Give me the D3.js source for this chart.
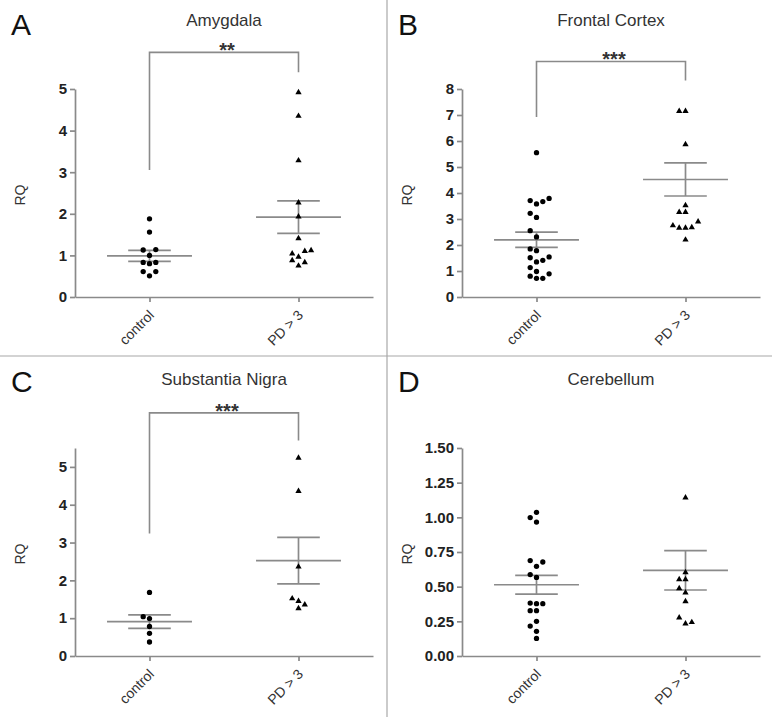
<!DOCTYPE html>
<html>
<head>
<meta charset="utf-8">
<script src="https://cdn.jsdelivr.net/npm/d3@7"></script>
<style>
  body { margin: 0; background: #fff; }
  svg { display: block; }
</style>
</head>
<body>
<svg id="chart"></svg>
<script>
const width = 772;
const height = 717;
const font = "'Liberation Sans', Arial, sans-serif";
const grey = "#8a8a8a";

// categories and panels
const groups = ["control", "PD > 3"];
const panelLetters = ["A", "B", "C", "D"];
const panelTitles = ["Amygdala", "Frontal Cortex", "Substantia Nigra", "Cerebellum"];

// y axes
const yMax = [5, 8, 5.5, 1.5];
const yTicks = [
  [0, 1, 2, 3, 4, 5],
  [0, 1, 2, 3, 4, 5, 6, 7, 8],
  [0, 1, 2, 3, 4, 5],
  [0, 0.25, 0.5, 0.75, 1, 1.25, 1.5]
];
const tickFormats = ["d", "d", "d", ".2f"];

// RQ values per sample (order as entered)
const amygdalaControl = [0.51, 0.61, 0.61, 0.80, 0.83, 0.83, 1.00, 1.13, 1.14, 1.56, 1.88];
const amygdalaPD = [0.75, 0.965, 0.88, 0.83, 1.04, 1.10, 1.12, 1.41, 1.93, 2.27, 3.28, 4.35, 4.92];
const frontalControl = [0.72, 0.80, 0.72, 0.89, 0.98, 1.13, 1.35, 1.51, 1.41, 1.54, 1.78, 1.85,
  2.31, 2.55, 3.06, 3.22, 3.58, 3.71, 3.67, 3.79, 5.55];
const frontalPD = [2.20, 2.66, 2.66, 2.68, 2.90, 2.75, 3.26, 3.26, 3.52, 5.87, 7.15, 7.15];
const nigraControl = [0.37, 0.60, 0.78, 0.99, 1.04, 1.68];
const nigraPD = [1.26, 1.45, 1.52, 1.36, 2.36, 4.36, 5.24];
const cerebellumControl = [0.127, 0.178, 0.216, 0.25, 0.327, 0.327, 0.377, 0.382, 0.377,
  0.567, 0.587, 0.647, 0.688, 0.678, 0.966, 0.998, 1.036];
const cerebellumPD = [0.233, 0.276, 0.243, 0.394, 0.457, 0.553, 0.603, 0.553, 0.488, 1.142];

const panelValues = [
  [amygdalaControl, amygdalaPD],
  [frontalControl, frontalPD],
  [nigraControl, nigraPD],
  [cerebellumControl, cerebellumPD]
];

// mean and SEM lines as drawn
const meanValues = [[0.99, 1.92], [2.20, 4.52], [0.91, 2.52], [0.514, 0.618]];
const semValues = [[0.133, 0.39], [0.295, 0.635], [0.18, 0.615], [0.068, 0.142]];

// significance brackets (in RQ units)
const bracketLeft = [3.05, 6.92, 3.24, null];
const bracketRight = [5.4, 8.33, 5.7, null];
const bracketTop = [5.88, 9.06, 6.43, null];
const bracketLabels = ["**", "***", "***", ""];

const svg = d3
  .select("#chart")
  .attr("width", width)
  .attr("height", height)
  .attr("viewBox", [0, 0, width, height])
  .style("font-family", font);

// panel dividers
svg.append("line")
  .attr("x1", 387).attr("x2", 387).attr("y1", 0).attr("y2", height)
  .attr("stroke", "#a8a8a8").attr("stroke-width", 1.2);
svg.append("line")
  .attr("x1", 0).attr("x2", width).attr("y1", 356).attr("y2", 356)
  .attr("stroke", "#a8a8a8").attr("stroke-width", 1.2);

// spread points sideways so they do not overlap
function swarm(values, y, laneWidth = 6.3, gap = 6.5) {
  const lanes = [0, -1, 1, 2, -2, 3, -3];
  const placed = [];
  return values.map((v) => {
    const py = y(v);
    const k = lanes.find((k) => !placed.some((p) => p.k === k && Math.abs(p.py - py) < gap));
    placed.push({ k, py });
    return { v, dx: k * laneWidth };
  });
}

panelTitles.forEach((title, i) => {
  const g = svg
    .append("g")
    .attr("transform", `translate(${(i % 2) * 387},${Math.floor(i / 2) * 359})`);

  const x = d3.scalePoint().domain(groups).range([75, 373]).padding(0.5);
  const y = d3.scaleLinear().domain([0, yMax[i]]).range([297, 89]);
  const step = x.step();

  g.append("text")
    .attr("x", 11)
    .attr("y", i < 2 ? 35 : 33)
    .attr("font-size", 30)
    .attr("fill", "#111")
    .text(panelLetters[i]);

  g.append("text")
    .attr("x", 224)
    .attr("y", 26)
    .attr("text-anchor", "middle")
    .attr("font-size", 17)
    .attr("fill", "#333")
    .text(title);

  g.append("text")
    .attr("transform", "translate(25,195) rotate(-90)")
    .attr("text-anchor", "middle")
    .attr("font-size", 14)
    .attr("fill", "#333")
    .text("RQ");

  // y axis
  g.append("g")
    .attr("transform", "translate(75,0)")
    .call(
      d3.axisLeft(y)
        .tickValues(yTicks[i])
        .tickFormat(d3.format(tickFormats[i]))
        .tickSize(5)
        .tickSizeOuter(0)
        .tickPadding(3)
    )
    .attr("font-family", font)
    .attr("font-size", 15)
    .call((a) => a.selectAll("path, line").attr("stroke", grey).attr("stroke-width", 1.7))
    .call((a) => a.selectAll("text").attr("fill", "#222").attr("font-weight", "bold"));

  // x axis
  g.append("g")
    .attr("transform", `translate(0,${y(0)})`)
    .call(d3.axisBottom(x).tickSize(5).tickSizeOuter(0))
    .attr("font-family", font)
    .attr("font-size", 14)
    .call((a) => a.selectAll("path, line").attr("stroke", grey).attr("stroke-width", 1.7))
    .call((a) =>
      a.selectAll("text")
        .attr("x", 0)
        .attr("y", 0)
        .attr("dy", 0)
        .attr("fill", "#333")
        .attr("text-anchor", "end")
        .attr("transform", "translate(5,19) rotate(-45)")
    );

  // significance bracket
  if (bracketTop[i] !== null) {
    const x0 = x(groups[0]);
    const x1 = x(groups[1]);
    g.append("path")
      .attr("d", d3.line()([
        [x0, y(bracketLeft[i])],
        [x0, y(bracketTop[i])],
        [x1, y(bracketTop[i])],
        [x1, y(bracketRight[i])]
      ]))
      .attr("fill", "none")
      .attr("stroke", grey)
      .attr("stroke-width", 1.6);
    g.append("text")
      .attr("x", (x0 + x1) / 2 + 3)
      .attr("y", y(bracketTop[i]) + 5)
      .attr("text-anchor", "middle")
      .attr("font-size", 20)
      .attr("font-weight", "bold")
      .attr("fill", "#333")
      .text(bracketLabels[i]);
  }

  groups.forEach((grp, j) => {
    const cx = x(grp);
    const m = meanValues[i][j];
    const s = semValues[i][j];
    const lines = g.append("g").attr("stroke", grey).attr("stroke-width", 1.7);

    lines.append("line")
      .attr("x1", cx - step * 0.285).attr("x2", cx + step * 0.285)
      .attr("y1", y(m)).attr("y2", y(m));
    [m - s, m + s].forEach((v) => {
      lines.append("line")
        .attr("x1", cx - step * 0.143).attr("x2", cx + step * 0.143)
        .attr("y1", y(v)).attr("y2", y(v));
    });
    lines.append("line")
      .attr("x1", cx).attr("x2", cx)
      .attr("y1", y(m - s)).attr("y2", y(m + s));

    const pts = swarm(panelValues[i][j], y);
    const symbol = d3.symbol().type(j === 0 ? d3.symbolCircle : d3.symbolTriangle).size(j === 0 ? 22 : 17);
    g.append("g")
      .selectAll("path")
      .data(pts)
      .join("path")
      .attr("transform", (d) => `translate(${cx + d.dx},${y(d.v)})`)
      .attr("d", symbol)
      .attr("fill", "#000");
  });
});
</script>
</body>
</html>
